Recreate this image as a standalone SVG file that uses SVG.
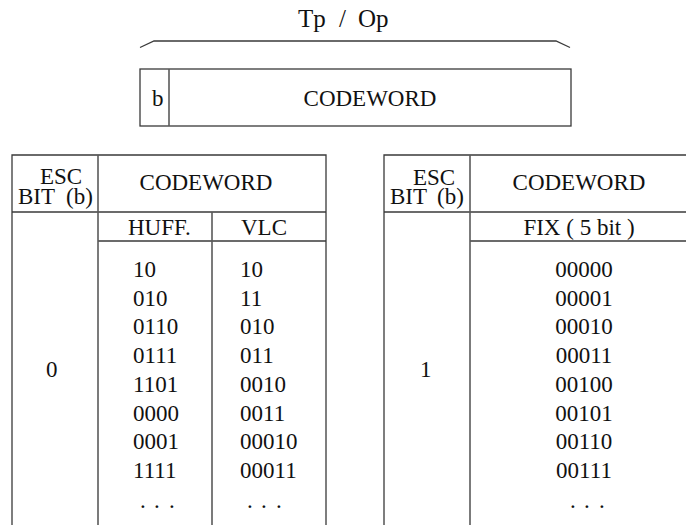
<svg xmlns="http://www.w3.org/2000/svg" width="686" height="525" viewBox="0 0 686 525">
  <style>
    text { font-family: "Liberation Serif", "Times New Roman", serif; font-size: 23px; fill: #111; }
    .mid { text-anchor: middle; }
    .big { font-size: 25px; }
    .rule { stroke: #3a3a3a; stroke-width: 1.3; fill: none; }
    .inner { stroke: #5a5a5a; stroke-width: 1.6; fill: none; }
  </style>
  <rect width="686" height="525" fill="#fff"/>

  <!-- Tp / Op label with brace -->
  <g id="title">
    <text class="big" x="298" y="27">Tp</text>
    <text class="big" x="339" y="27">/</text>
    <text class="big" x="358" y="27">Op</text>
    <path class="rule" d="M140,47.5 L154,41 L556,41 L570,47.5"/>
  </g>

  <!-- Codeword frame: escape bit + codeword -->
  <g id="frame">
    <rect class="rule" x="140" y="69" width="431" height="57"/>
    <line class="inner" x1="169" y1="69" x2="169" y2="126"/>
    <text x="152" y="106">b</text>
    <text class="mid" x="370" y="106">CODEWORD</text>
  </g>

  <!-- Table for escape bit 0 -->
  <g id="table-esc0">
    <path class="rule" d="M12,525 L12,155 L326,155 L326,525"/>
    <line class="rule" x1="12" y1="212" x2="326" y2="212"/>
    <line class="rule" x1="98" y1="241" x2="326" y2="241"/>
    <line class="inner" x1="98" y1="155" x2="98" y2="525"/>
    <line class="inner" x1="212" y1="212" x2="212" y2="525"/>
    <text x="40" y="184">ESC</text>
    <text x="18" y="203.5">BIT</text>
    <text x="66" y="203.5">(b)</text>
    <text class="mid" x="206" y="190">CODEWORD</text>
    <text x="128" y="235">HUFF.</text>
    <text x="241" y="235">VLC</text>
    <text x="46" y="377">0</text>
    <g id="huff-codes">
      <text x="133" y="277">10</text>
      <text x="133" y="305.7">010</text>
      <text x="133" y="334.4">0110</text>
      <text x="133" y="363.1">0111</text>
      <text x="133" y="391.8">1101</text>
      <text x="133" y="420.5">0000</text>
      <text x="133" y="449.2">0001</text>
      <text x="133" y="477.9">1111</text>
      <text x="140 154 169" y="508">...</text>
    </g>
    <g id="vlc-codes">
      <text x="240" y="277">10</text>
      <text x="240" y="305.7">11</text>
      <text x="240" y="334.4">010</text>
      <text x="240" y="363.1">011</text>
      <text x="240" y="391.8">0010</text>
      <text x="240" y="420.5">0011</text>
      <text x="240" y="449.2">00010</text>
      <text x="240" y="477.9">00011</text>
      <text x="247 261 276" y="508">...</text>
    </g>
  </g>

  <!-- Table for escape bit 1 -->
  <g id="table-esc1">
    <path class="rule" d="M384,525 L384,155 L690,155"/>
    <line class="rule" x1="384" y1="212" x2="690" y2="212"/>
    <line class="rule" x1="470" y1="241" x2="690" y2="241"/>
    <line class="inner" x1="470" y1="155" x2="470" y2="525"/>
    <text x="413" y="185">ESC</text>
    <text x="390" y="204">BIT</text>
    <text x="437" y="204">(b)</text>
    <text class="mid" x="579" y="190">CODEWORD</text>
    <text class="mid" x="579" y="235">FIX ( 5 bit )</text>
    <text x="420" y="377">1</text>
    <g id="fix-codes">
      <text class="mid" x="584" y="277">00000</text>
      <text class="mid" x="584" y="305.7">00001</text>
      <text class="mid" x="584" y="334.4">00010</text>
      <text class="mid" x="584" y="363.1">00011</text>
      <text class="mid" x="584" y="391.8">00100</text>
      <text class="mid" x="584" y="420.5">00101</text>
      <text class="mid" x="584" y="449.2">00110</text>
      <text class="mid" x="584" y="477.9">00111</text>
      <text x="570 584 599" y="508">...</text>
    </g>
  </g>
</svg>
